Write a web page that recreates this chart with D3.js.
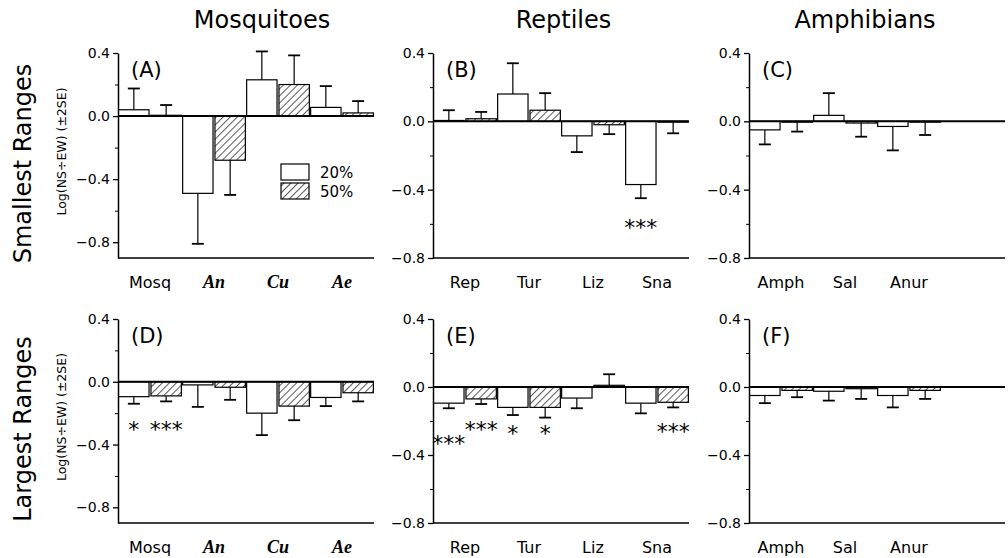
<!DOCTYPE html>
<html>
<head>
<meta charset="utf-8">
<script src="https://cdn.jsdelivr.net/npm/d3@7"></script>
<style>
  body { margin: 0; background: #fff; }
  svg { font-family: "DejaVu Sans", sans-serif; }
</style>
</head>
<body>
<svg id="chart" width="1008" height="558"></svg>
<script>
// ---- data ----
const columns = ["Mosquitoes", "Reptiles", "Amphibians"];
const rows = ["Smallest Ranges", "Largest Ranges"];
const series = ["20%", "50%"];
const yTicks = [0.4, 0.0, -0.4, -0.8];
const yMinor = [0.2, -0.2, -0.6];
const mosqCats = ["Mosq", "An", "Cu", "Ae"];
const reptCats = ["Rep", "Tur", "Liz", "Sna"];
const amphCats = ["Amph", "Sal", "Anur"];
const italicCats = ["An", "Cu", "Ae"];

// bar value and error-bar end (mean ± 2SE, one side drawn)
const A20 = [0.04, -0.49, 0.23, 0.055],   A20err = [0.175, -0.81, 0.41, 0.19];
const A50 = [0.005, -0.28, 0.20, 0.02],   A50err = [0.07, -0.50, 0.385, 0.095];
const B20 = [0.005, 0.16, -0.085, -0.37], B20err = [0.065, 0.34, -0.18, -0.45];
const B50 = [0.015, 0.065, -0.02, -0.005], B50err = [0.055, 0.165, -0.075, -0.07];
const C20 = [-0.05, 0.035, -0.03],        C20err = [-0.135, 0.165, -0.17];
const C50 = [-0.005, -0.01, -0.005],      C50err = [-0.06, -0.09, -0.08];
const D20 = [-0.095, -0.02, -0.20, -0.10], D20err = [-0.14, -0.16, -0.34, -0.155];
const D50 = [-0.09, -0.035, -0.155, -0.07], D50err = [-0.125, -0.115, -0.245, -0.125];
const E20 = [-0.095, -0.12, -0.065, -0.095], E20err = [-0.125, -0.165, -0.125, -0.155];
const E50 = [-0.07, -0.12, 0.01, -0.09],  E50err = [-0.10, -0.18, 0.075, -0.12];
const F20 = [-0.05, -0.025, -0.05],       F20err = [-0.095, -0.08, -0.12];
const F50 = [-0.02, -0.01, -0.02],        F50err = [-0.06, -0.07, -0.07];

// significance stars: panel, category, series, text, level (data units)
const stars = [
  ["B", "Sna", "20%", "***", -0.59],
  ["D", "Mosq", "20%", "*", -0.27],
  ["D", "Mosq", "50%", "***", -0.27],
  ["E", "Rep", "20%", "***", -0.30],
  ["E", "Rep", "50%", "***", -0.22],
  ["E", "Tur", "20%", "*", -0.24],
  ["E", "Tur", "50%", "*", -0.24],
  ["E", "Sna", "50%", "***", -0.23]
];

const panels = [
  { id: "A", row: 0, col: 0, cats: mosqCats, v: [A20, A50], e: [A20err, A50err], yMin: -0.9 },
  { id: "B", row: 0, col: 1, cats: reptCats, v: [B20, B50], e: [B20err, B50err], yMin: -0.8 },
  { id: "C", row: 0, col: 2, cats: amphCats, v: [C20, C50], e: [C20err, C50err], yMin: -0.8 },
  { id: "D", row: 1, col: 0, cats: mosqCats, v: [D20, D50], e: [D20err, D50err], yMin: -0.9 },
  { id: "E", row: 1, col: 1, cats: reptCats, v: [E20, E50], e: [E20err, E50err], yMin: -0.8 },
  { id: "F", row: 1, col: 2, cats: amphCats, v: [F20, F50], e: [F20err, F50err], yMin: -0.8 }
];

// ---- layout ----
const svg = d3.select("#chart");
const colX = [118, 433, 749];
const panelW = 256;
const rowTop = [53, 319];
const rowBottom = [258, 523];
const slots = 4;

const defs = svg.append("defs");
defs.append("pattern")
    .attr("id", "hatch")
    .attr("patternUnits", "userSpaceOnUse")
    .attr("width", 5).attr("height", 5)
    .attr("patternTransform", "rotate(45)")
  .append("line")
    .attr("x1", 0).attr("y1", 0).attr("x2", 0).attr("y2", 5)
    .attr("stroke", "#000").attr("stroke-width", 1.3);

// column titles
const titleX = d3.scalePoint().domain(columns).range([262, 865]);
svg.selectAll(".title").data(columns).join("text")
    .attr("x", d => titleX(d)).attr("y", 28)
    .attr("text-anchor", "middle")
    .style("font-size", "24px")
    .text(d => d);

// row labels
rows.forEach((r, i) => {
  const mid = (rowTop[i] + rowBottom[i]) / 2;
  svg.append("text")
      .attr("transform", `translate(31,${mid + 8}) rotate(-90)`)
      .attr("text-anchor", "middle")
      .style("font-size", "24px")
      .text(r);
  svg.append("text")
      .attr("transform", `translate(66,${mid - 4}) rotate(-90)`)
      .attr("text-anchor", "middle")
      .style("font-size", "12.5px")
      .text("Log(NS\u00F7EW) (\u00B12SE)");
});

const fmt = d3.format(".1f");

panels.forEach(p => {
  const x0 = colX[p.col];
  const y = d3.scaleLinear().domain([p.yMin, 0.4]).range([rowBottom[p.row], rowTop[p.row]]);
  const slotNames = d3.range(slots).map(i => p.cats[i] || "_" + i);
  const xg = d3.scaleBand().domain(slotNames).range([x0, x0 + panelW]);
  const xs = d3.scaleBand().domain(series).range([0, xg.bandwidth()]).paddingInner(0.06).paddingOuter(0.02);

  const g = svg.append("g");

  // y axis
  g.append("g")
      .attr("transform", `translate(${x0},0)`)
      .call(d3.axisLeft(y).tickValues(yTicks).tickSize(5).tickSizeOuter(0).tickPadding(3).tickFormat(fmt))
      .call(a => a.select(".domain").attr("stroke-width", 1.5))
      .call(a => a.selectAll(".tick line").attr("stroke-width", 1.3))
      .call(a => a.selectAll(".tick text").style("font-size", "14px").style("font-family", "DejaVu Sans, sans-serif"));
  g.append("g")
      .attr("transform", `translate(${x0},0)`)
      .call(d3.axisLeft(y).tickValues(yMinor).tickSize(3).tickFormat(""))
      .call(a => a.select(".domain").remove());

  // bottom axis line
  g.append("line")
      .attr("x1", x0).attr("x2", x0 + panelW)
      .attr("y1", y(p.yMin)).attr("y2", y(p.yMin))
      .attr("stroke", "#000").attr("stroke-width", 1.5);

  // bars
  const bars = [];
  series.forEach((s, si) => {
    p.cats.forEach((c, ci) => {
      bars.push({ cat: c, s: s, si: si, v: p.v[si][ci], e: p.e[si][ci] });
    });
  });

  g.selectAll("rect.bar").data(bars).join("rect")
      .attr("class", "bar")
      .attr("x", d => xg(d.cat) + xs(d.s))
      .attr("width", xs.bandwidth())
      .attr("y", d => Math.min(y(d.v), y(0)))
      .attr("height", d => Math.abs(y(d.v) - y(0)))
      .attr("fill", d => d.si === 0 ? "#fff" : "url(#hatch)")
      .attr("stroke", "#000").attr("stroke-width", 1.2);

  // zero line
  g.append("line")
      .attr("x1", x0).attr("x2", x0 + panelW)
      .attr("y1", y(0)).attr("y2", y(0))
      .attr("stroke", "#000").attr("stroke-width", 2);

  // error bars
  const cx = d => xg(d.cat) + xs(d.s) + xs.bandwidth() / 2;
  g.selectAll("line.err").data(bars).join("line")
      .attr("class", "err")
      .attr("x1", cx).attr("x2", cx)
      .attr("y1", d => y(d.v)).attr("y2", d => y(d.e))
      .attr("stroke", "#000").attr("stroke-width", 1.2);
  g.selectAll("line.cap").data(bars).join("line")
      .attr("class", "cap")
      .attr("x1", d => cx(d) - 6).attr("x2", d => cx(d) + 6)
      .attr("y1", d => y(d.e)).attr("y2", d => y(d.e))
      .attr("stroke", "#000").attr("stroke-width", 1.8);

  // stars
  const ps = stars.filter(t => t[0] === p.id);
  g.selectAll("text.star").data(ps).join("text")
      .attr("class", "star")
      .attr("x", d => xg(d[1]) + xs(d[2]) + xs.bandwidth() / 2)
      .attr("y", d => y(d[4]) + 13)
      .attr("text-anchor", "middle")
      .style("font-size", "22px")
      .text(d => d[3]);

  // category labels
  g.selectAll("text.cat").data(p.cats).join("text")
      .attr("class", "cat")
      .attr("x", d => xg(d) + xg.bandwidth() / 2)
      .attr("y", rowBottom[p.row] + 30)
      .attr("text-anchor", "middle")
      .style("font-size", d => italicCats.includes(d) ? "18px" : "16px")
      .style("font-family", d => italicCats.includes(d) ? "Liberation Serif, serif" : null)
      .style("font-style", d => italicCats.includes(d) ? "italic" : null)
      .style("font-weight", d => italicCats.includes(d) ? "bold" : null)
      .text(d => d);

  // panel letter
  g.append("text")
      .attr("x", x0 + 13).attr("y", rowTop[p.row] + 24)
      .style("font-size", "21px")
      .text(`(${p.id})`);

  // legend in the first panel
  if (p.id === "A") {
    const lg = g.append("g").attr("transform", `translate(${x0 + 163},${rowTop[p.row] + 111})`);
    series.forEach((s, i) => {
      lg.append("rect")
          .attr("x", 0).attr("y", i * 19)
          .attr("width", 28).attr("height", 16)
          .attr("fill", i === 0 ? "#fff" : "url(#hatch)")
          .attr("stroke", "#000").attr("stroke-width", 1.2);
      lg.append("text")
          .attr("x", 39).attr("y", i * 19 + 14)
          .style("font-size", "15px")
          .text(s);
    });
  }
});
</script>
</body>
</html>
